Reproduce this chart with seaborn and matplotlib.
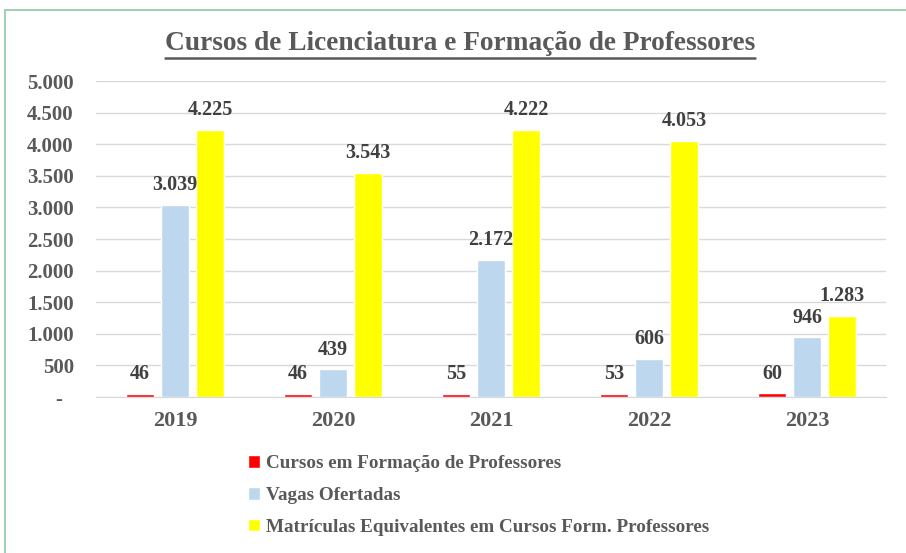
import pandas as pd
import matplotlib.pyplot as plt
import seaborn as sns
from matplotlib.patches import Rectangle
from matplotlib.lines import Line2D

# Dados
anos = ['2019', '2020', '2021', '2022', '2023']
cursos = [46, 46, 55, 53, 60]
vagas = [3039, 439, 2172, 606, 946]
matriculas = [4225, 3543, 4222, 4053, 1283]
series = ['Cursos em Formação de Professores',
          'Vagas Ofertadas',
          'Matrículas Equivalentes em Cursos Form. Professores']
cores = ['#ff0000', '#bdd7ee', '#ffff00']

df = pd.DataFrame({
    'ano': anos * 3,
    'serie': [series[0]] * 5 + [series[1]] * 5 + [series[2]] * 5,
    'valor': cursos + vagas + matriculas,
})


def fmt_br(v):
    if v == 0:
        return '-  '
    return f'{int(v):,}'.replace(',', '.')


sns.set_style('white')
plt.rcParams['font.family'] = ['Liberation Serif', 'DejaVu Serif']
cinza = '#595959'

fig = plt.figure(figsize=(9.06, 5.53), dpi=100)
ax = fig.add_axes([0.106, 0.282, 0.872, 0.5715])

sns.barplot(data=df, x='ano', y='valor', hue='serie', palette=cores,
            width=0.665, gap=0.2, ax=ax, saturation=1)

ax.set_ylim(0, 5000)
ax.set_yticks(range(0, 5001, 500))
ax.set_yticklabels([fmt_br(v) for v in range(0, 5001, 500)])
ax.yaxis.grid(True, color='#d9d9d9', linewidth=1)
ax.set_axisbelow(True)
for s in ['top', 'right', 'left']:
    ax.spines[s].set_visible(False)
ax.spines['bottom'].set_color('#d9d9d9')
ax.set_xlabel('')
ax.set_ylabel('')
ax.tick_params(axis='y', length=0, pad=16, labelsize=15, labelcolor=cinza)
ax.tick_params(axis='x', length=0, pad=10, labelsize=16, labelcolor=cinza)
for lbl in ax.get_xticklabels() + ax.get_yticklabels():
    lbl.set_fontweight('bold')

# Rótulos de dados
for cont, vals in zip(ax.containers, [cursos, vagas, matriculas]):
    ax.bar_label(cont, labels=[fmt_br(v) for v in vals], padding=7,
                 fontsize=14.5, fontweight='bold', color='#404040')

# Legenda
leg = ax.legend(loc='upper left', bbox_to_anchor=(231 / 906, 1 - 438 / 553),
                bbox_transform=fig.transFigure, frameon=False,
                handlelength=0.6, handleheight=0.6, handletextpad=0.3,
                labelspacing=0.78,
                prop={'family': 'Liberation Serif', 'size': 13.8, 'weight': 'bold'})
for t in leg.get_texts():
    t.set_color(cinza)

# Título sublinhado
titulo = fig.text(0.508, 1 - 44 / 553, 'Cursos de Licenciatura e Formação de Professores',
                  ha='center', va='center', fontsize=19.7, fontweight='bold', color=cinza)
fig.canvas.draw()
bb = titulo.get_window_extent(fig.canvas.get_renderer())
W, H = fig.bbox.width, fig.bbox.height
yl = (bb.y0 - 1) / H
fig.add_artist(Line2D([bb.x0 / W, bb.x1 / W], [yl, yl], color=cinza, linewidth=1.8))

# Moldura do gráfico
fig.add_artist(Rectangle((5 / 906, -0.1), 1.2, 1 - 10 / 553 + 0.1,
                         transform=fig.transFigure, fill=False,
                         edgecolor='#8cc9a4', linewidth=1.2))

fig.savefig('out.png', dpi=100)
